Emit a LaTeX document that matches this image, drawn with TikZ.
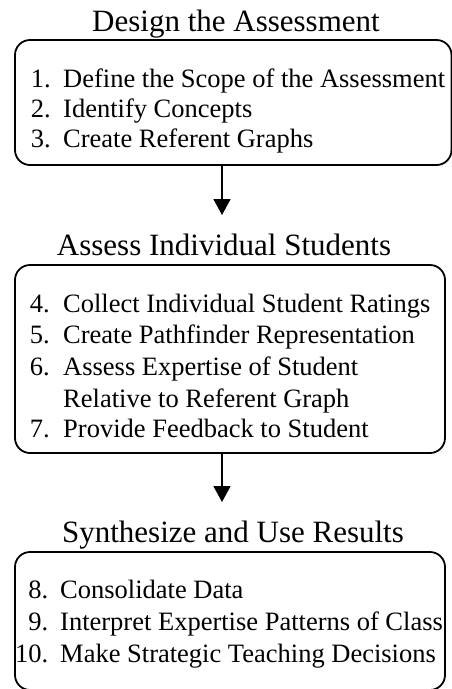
\documentclass[tikz,border=0pt]{standalone}
\usepackage{fontspec}
\setmainfont{Liberation Serif}
\usetikzlibrary{arrows.meta}
\begin{document}
\begin{tikzpicture}[x=1pt,y=-1pt,
  box/.style={draw, line width=1.8pt, rounded corners=15pt, inner sep=0pt},
  ttl/.style={anchor=base, font=\fontsize{31}{36}\selectfont, inner sep=0pt},
  num/.style={anchor=base east, font=\fontsize{26.5}{30}\selectfont, inner sep=0pt},
  itm/.style={anchor=base west, font=\fontsize{26.5}{30}\selectfont, inner sep=0pt},
  arr/.style={line width=1.8pt, -{Triangle[width=17pt,length=16pt]}}]
\useasboundingbox (0,0) rectangle (452,689);

% titles
\node[ttl] (t1) at (236,31) {Design the Assessment};
\node[ttl] (t2) at (224,255) {Assess Individual Students};
\node[ttl] (t3) at (233,542) {Synthesize and Use Results};

% boxes
\node[box, minimum width=436.5pt, minimum height=125pt] (b1) at (233.25,102.5) {};
\node[box, minimum width=430pt, minimum height=188pt] (b2) at (230,359) {};
\node[box, minimum width=430pt, minimum height=138pt] (b3) at (230,621) {};

% box 1 items
\node[num] (n1) at (51,87) {1.};
\node[itm] (i1) at (63,87) {Define the Scope of the Assessment};
\node[num] (n2) at (51,117) {2.};
\node[itm] (i2) at (63,117) {Identify Concepts};
\node[num] (n3) at (51,147) {3.};
\node[itm] (i3) at (63,147) {Create Referent Graphs};

% box 2 items
\node[num] (n4) at (50,312) {4.};
\node[itm] (i4) at (63,312) {Collect Individual Student Ratings};
\node[num] (n5) at (50,343) {5.};
\node[itm] (i5) at (63,343) {Create Pathfinder Representation};
\node[num] (n6) at (50,375) {6.};
\node[itm] (i6) at (63,375) {Assess Expertise of Student};
\node[itm] (i6b) at (63,407) {Relative to Referent Graph};
\node[num] (n7) at (50,437) {7.};
\node[itm] (i7) at (63,437) {Provide Feedback to Student};

% box 3 items
\node[num] (n8) at (48.5,598) {8.};
\node[itm] (i8) at (60,598) {Consolidate Data};
\node[num] (n9) at (48.5,630) {9.};
\node[itm] (i9) at (60,630) {Interpret Expertise Patterns of Class};
\node[num] (n10) at (48.5,662) {10.};
\node[itm] (i10) at (60,662) {Make Strategic Teaching Decisions};

% arrows
\coordinate (a1) at (222,215);
\coordinate (a2) at (222,502);
\draw[arr] (b1.south -| a1) -- (a1);
\draw[arr] (b2.south -| a2) -- (a2);
\end{tikzpicture}
\end{document}
